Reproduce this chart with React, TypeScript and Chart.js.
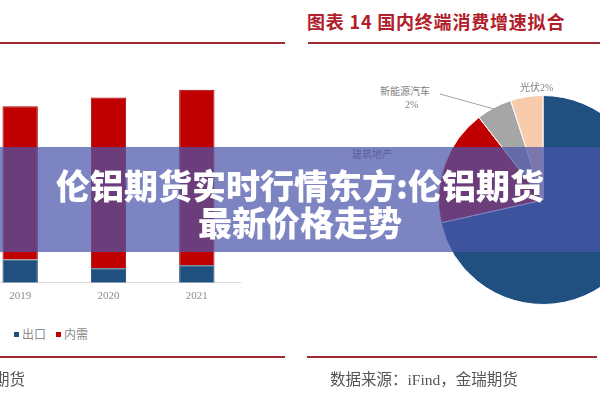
import React, { useEffect, useRef } from "react";
import { Chart, registerables } from "chart.js";

Chart.register(...registerables);

// ---- data ----
const years = ["2019", "2020", "2021"];
const exportValues = [480, 300, 360];
const domesticValues = [3140, 3500, 3600];
const barSeriesNames = ["出口", "内需"];

const pieLabels = ["传统消费", "建筑地产", "新能源汽车", "光伏"];
const pieValues = [71.5, 18, 5.5, 5];

const titleText = "图表 14 国内终端消费增速拟合";
const sourceText = "数据来源：iFind，金瑞期货";
const bannerLine1 = "伦铝期货实时行情东方:伦铝期货";
const bannerLine2 = "最新价格走势";

const BLUE = "#1F507F";
const RED = "#C00000";
const GRAY = "#A6A6A6";
const PEACH = "#F8CBAD";

function BarPanel() {
  const ref = useRef<HTMLCanvasElement | null>(null);
  useEffect(() => {
    if (!ref.current) return;
    const chart = new Chart(ref.current, {
      type: "bar",
      data: {
        labels: years,
        datasets: [
          {
            label: barSeriesNames[0],
            data: exportValues,
            backgroundColor: BLUE,
            borderColor: "#1a4368",
            borderWidth: 1,
            categoryPercentage: 0.8,
            barPercentage: 0.5,
          },
          {
            label: barSeriesNames[1],
            data: domesticValues,
            backgroundColor: RED,
            borderColor: "#a80000",
            borderWidth: 1,
            categoryPercentage: 0.8,
            barPercentage: 0.5,
          },
        ],
      },
      options: {
        animation: false,
        responsive: false,
        maintainAspectRatio: false,
        layout: { padding: 0 },
        plugins: { legend: { display: false }, tooltip: { enabled: false } },
        scales: {
          x: {
            stacked: true,
            grid: { display: false, drawTicks: false },
            border: { display: true, color: "#d9d9d9", width: 1 },
            ticks: {
              padding: 7,
              color: "#8c8c8c",
              font: { family: "Liberation Serif", size: 11 },
            },
          },
          y: {
            stacked: true,
            display: false,
            min: 0,
            max: 5000,
          },
        },
      },
    });
    return () => chart.destroy();
  }, []);
  return (
    <canvas
      ref={ref}
      width={265}
      height={271}
      style={{ position: "absolute", left: -24, top: 39, width: 265, height: 271 }}
    />
  );
}

function PiePanel() {
  const ref = useRef<HTMLCanvasElement | null>(null);
  useEffect(() => {
    if (!ref.current) return;
    const chart = new Chart(ref.current, {
      type: "pie",
      data: {
        labels: pieLabels,
        datasets: [
          {
            data: pieValues,
            backgroundColor: [BLUE, RED, GRAY, PEACH],
            borderColor: "#ffffff",
            borderWidth: 1,
          },
        ],
      },
      options: {
        animation: false,
        responsive: false,
        maintainAspectRatio: false,
        layout: { padding: 0 },
        plugins: { legend: { display: false }, tooltip: { enabled: false } },
      },
    });
    return () => chart.destroy();
  }, []);
  return (
    <canvas
      ref={ref}
      width={210}
      height={210}
      style={{ position: "absolute", left: 438, top: 95, width: 210, height: 210 }}
    />
  );
}

const serif = "'Liberation Serif', 'Noto Sans CJK SC', serif";

export default function App() {
  return (
    <div
      style={{
        position: "fixed",
        left: 0,
        top: 0,
        width: 600,
        height: 400,
        overflow: "hidden",
        background: "#ffffff",
      }}
    >
      {/* left panel rules */}
      <div style={{ position: "absolute", left: 0, top: 42, width: 285, height: 2, background: "#9e2a35" }} />
      <div style={{ position: "absolute", left: 0, top: 356, width: 285, height: 2, background: "#9e2a35" }} />
      {/* right panel rules */}
      <div style={{ position: "absolute", left: 308, top: 42, width: 292, height: 2, background: "#9e2a35" }} />
      <div style={{ position: "absolute", left: 307, top: 356, width: 290, height: 2, background: "#9e2a35" }} />

      <BarPanel />
      <PiePanel />

      {/* legend of bar chart */}
      <div
        style={{
          position: "absolute",
          left: 14,
          top: 325,
          fontFamily: serif,
          fontSize: 12,
          color: "#8c8c8c",
          display: "flex",
          alignItems: "center",
          whiteSpace: "nowrap",
        }}
      >
        <span style={{ width: 5, height: 5, background: BLUE, display: "inline-block", marginRight: 3 }} />
        <span>{barSeriesNames[0]}</span>
        <span style={{ width: 5, height: 5, background: RED, display: "inline-block", marginLeft: 10, marginRight: 3 }} />
        <span>{barSeriesNames[1]}</span>
      </div>

      {/* title */}
      <div
        style={{
          position: "absolute",
          left: 307,
          top: 8,
          fontFamily: "'Noto Sans CJK SC', sans-serif",
          fontWeight: 700,
          fontSize: 18,
          letterSpacing: 0.8,
          color: "#b0202a",
          whiteSpace: "nowrap",
        }}
      >
        {titleText}
      </div>

      {/* pie labels */}
      <div style={{ position: "absolute", left: 380, top: 83, fontFamily: serif, fontSize: 10, color: "#808080", whiteSpace: "nowrap" }}>
        {pieLabels[2]}
      </div>
      <div style={{ position: "absolute", left: 405, top: 99, fontFamily: serif, fontSize: 10, color: "#808080" }}>
        2%
      </div>
      <div style={{ position: "absolute", left: 520, top: 79, fontFamily: serif, fontSize: 10, color: "#808080", whiteSpace: "nowrap" }}>
        {pieLabels[3]}2%
      </div>
      <div style={{ position: "absolute", left: 352, top: 146, fontFamily: serif, fontSize: 10, color: "#808080", whiteSpace: "nowrap" }}>
        {pieLabels[1]}
      </div>
      <svg style={{ position: "absolute", left: 0, top: 0 }} width={600} height={400}>
        <line x1={440} y1={94} x2={494} y2={109} stroke="#8c8c8c" strokeWidth={0.8} />
      </svg>

      {/* sources */}
      <div
        style={{
          position: "absolute",
          left: 330,
          top: 367,
          fontFamily: serif,
          fontSize: 15.5,
          color: "#555555",
          whiteSpace: "nowrap",
        }}
      >
        {sourceText}
      </div>
      <div
        style={{
          position: "absolute",
          right: 575,
          top: 367,
          fontFamily: serif,
          fontSize: 15.5,
          color: "#555555",
          whiteSpace: "nowrap",
        }}
      >
        {sourceText}
      </div>

      {/* banner overlay */}
      <div
        style={{
          position: "absolute",
          left: 0,
          top: 147,
          width: 600,
          height: 105,
          background: "rgba(75, 85, 170, 0.72)",
        }}
      >
        <div
          style={{
            position: "absolute",
            left: 0,
            width: 600,
            top: 19,
            textAlign: "center",
            fontFamily: "'Noto Sans CJK SC', sans-serif",
            fontWeight: 900,
            fontSize: 34,
            lineHeight: "38px",
            color: "#ffffff",
            whiteSpace: "nowrap",
          }}
        >
          {bannerLine1}
        </div>
        <div
          style={{
            position: "absolute",
            left: 0,
            width: 600,
            top: 56,
            textAlign: "center",
            fontFamily: "'Noto Sans CJK SC', sans-serif",
            fontWeight: 900,
            fontSize: 34,
            lineHeight: "38px",
            color: "#ffffff",
            whiteSpace: "nowrap",
          }}
        >
          {bannerLine2}
        </div>
      </div>
    </div>
  );
}
